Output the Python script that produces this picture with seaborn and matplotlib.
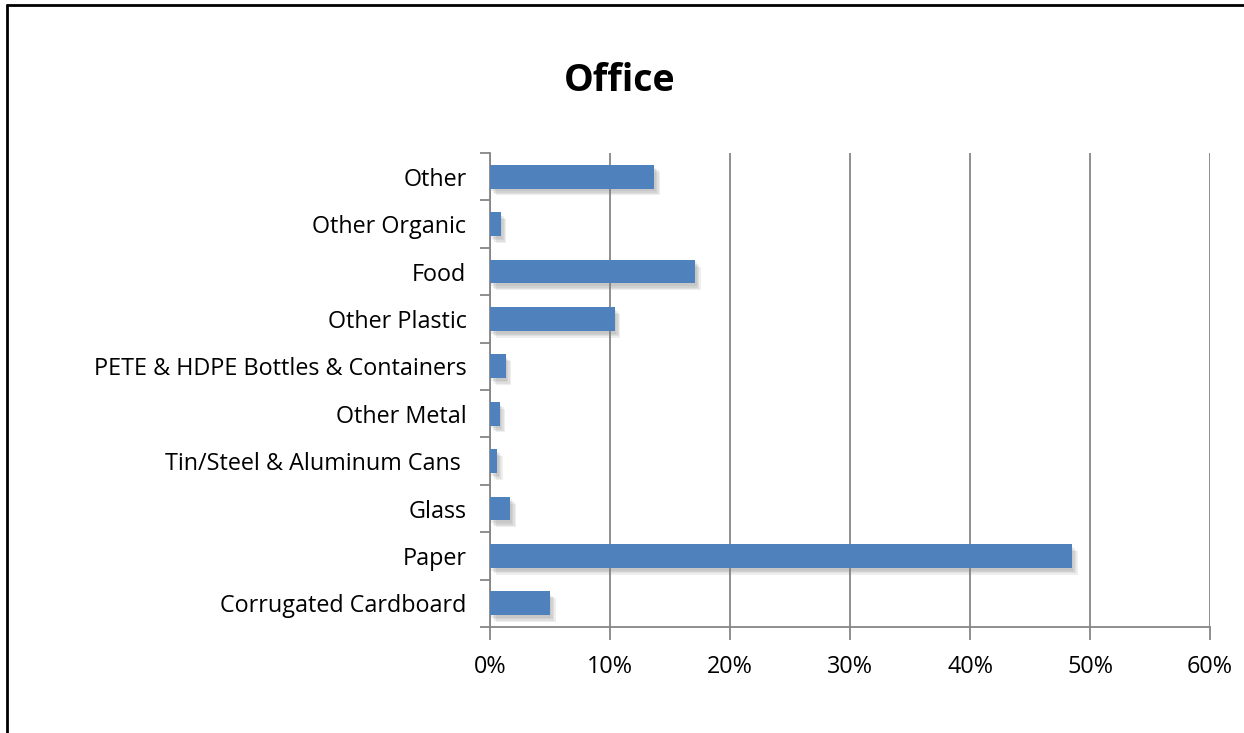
import matplotlib
matplotlib.use("Agg")
import matplotlib.pyplot as plt
import matplotlib.patheffects as pe
from matplotlib.lines import Line2D
from matplotlib.ticker import PercentFormatter, MultipleLocator
import seaborn as sns
import pandas as pd

categories = [
    "Other",
    "Other Organic",
    "Food",
    "Other Plastic",
    "PETE & HDPE Bottles & Containers",
    "Other Metal",
    "Tin/Steel & Aluminum Cans ",
    "Glass",
    "Paper",
    "Corrugated Cardboard",
]
shares = [13.7, 0.9, 17.1, 10.4, 1.3, 0.8, 0.6, 1.7, 48.5, 5.0]

df = pd.DataFrame({"category": categories, "share": shares})

sns.set_theme(style="white")
plt.rcParams["font.family"] = ["Open Sans", "DejaVu Sans"]

fig = plt.figure(figsize=(12.44, 7.33), dpi=100)
ax = fig.add_axes([490 / 1244, 1 - 627 / 733, 720 / 1244, 474 / 733])

sns.barplot(data=df, x="share", y="category", orient="h", color="#4F81BD",
            saturation=1, width=0.5, linewidth=0, ax=ax, zorder=3)

# soft drop shadow below and right of each bar
shadow_layers = [
    pe.SimplePatchShadow(offset=(o, -o - 1), shadow_rgbFace="#808080", alpha=0.13)
    for o in (1, 2, 3, 4)
]
for bar in ax.patches:
    bar.set_edgecolor("none")
    bar.set_path_effects(shadow_layers + [pe.Normal()])

ax.set_xlim(0, 60)
ax.set_ylim(len(categories) - 0.5, -0.5)
ax.xaxis.set_major_locator(MultipleLocator(10))
ax.xaxis.set_major_formatter(PercentFormatter(decimals=0))
ax.grid(axis="x", color="#868686", linewidth=1.3, zorder=0)
ax.set_axisbelow(True)

for side in ("top", "right"):
    ax.spines[side].set_visible(False)
for side in ("left", "bottom"):
    ax.spines[side].set_color("#868686")
    ax.spines[side].set_linewidth(1.3)

# category ticks sit between the bars
ax.set_yticks(range(len(categories)))
ax.set_yticklabels(categories)
ax.tick_params(axis="y", which="major", left=False, length=0, pad=17,
               labelsize=16.8, labelcolor="black")
ax.set_yticks([i - 0.5 for i in range(len(categories) + 1)], minor=True)
ax.tick_params(axis="y", which="minor", left=True, length=7, width=1.3,
               color="#868686", direction="out")
ax.tick_params(axis="x", length=9, width=1.3, color="#868686", direction="out",
               pad=11, labelsize=16.8, labelcolor="black", bottom=True)

ax.set_xlabel("")
ax.set_ylabel("")

fig.text(620 / 1244, 1 - 81 / 733, "Office", ha="center", va="center",
         fontsize=27, fontweight="bold", color="black")

# outer frame (top and left edges)
fig.add_artist(Line2D([7 / 1244, 1.0], [1 - 5 / 733, 1 - 5 / 733],
                      transform=fig.transFigure, color="black", linewidth=2))
fig.add_artist(Line2D([7 / 1244, 7 / 1244], [0, 1 - 5 / 733],
                      transform=fig.transFigure, color="black", linewidth=2))

fig.savefig("out.png", dpi=100, facecolor="white")
